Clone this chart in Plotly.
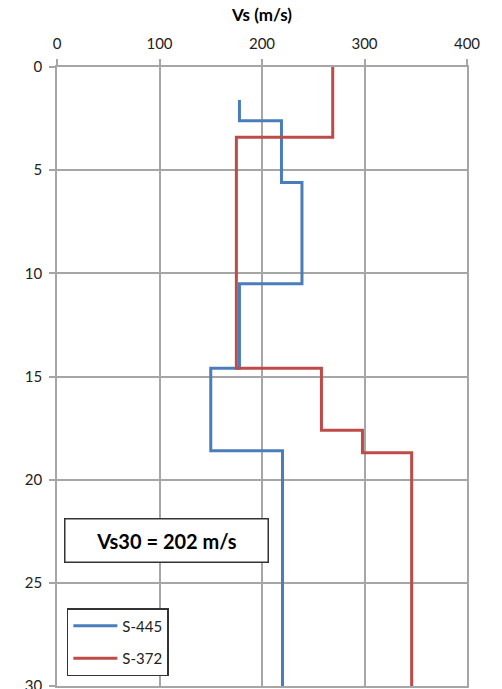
import plotly.graph_objects as go

# Layered shear-wave velocity profiles: each layer has a top depth, bottom depth and Vs
s445_top = [1.6, 2.6, 5.6, 10.5, 14.6, 18.6]
s445_bottom = [2.6, 5.6, 10.5, 14.6, 18.6, 30.0]
s445_vs = [178, 219, 239, 178, 150, 220]

s372_top = [0.0, 3.4, 14.6, 17.6, 18.7]
s372_bottom = [3.4, 14.6, 17.6, 18.7, 30.0]
s372_vs = [269, 175, 258, 298, 346]

x_ticks = [0, 100, 200, 300, 400]
y_ticks = [0, 5, 10, 15, 20, 25, 30]
vs30_label = "Vs30 = 202 m/s"


def step_profile(tops, bottoms, vs):
    xs, ys = [], []
    for t, b, v in zip(tops, bottoms, vs):
        xs += [v, v]
        ys += [t, b]
    return xs, ys


FONT = "Lato, 'Open Sans', sans-serif"
GRID = "#a6a6a6"
TEXT = "#222222"

fig = go.Figure()
for name, tops, bottoms, vs, color, grp in [
    ("S-445", s445_top, s445_bottom, s445_vs, "#4a7ebb", "a"),
    ("S-372", s372_top, s372_bottom, s372_vs, "#be4b48", "b"),
]:
    xs, ys = step_profile(tops, bottoms, vs)
    fig.add_trace(go.Scatter(x=xs, y=ys, mode="lines", name=name, legendgroup=grp,
                             line=dict(color=color, width=3)))

fig.update_layout(
    width=502, height=689,
    margin=dict(l=57, r=35, t=67, b=3),
    paper_bgcolor="white", plot_bgcolor="white",
    font=dict(family=FONT, size=15, color=TEXT),
    showlegend=True,
    legend=dict(x=0.024, y=0.126, xanchor="left", yanchor="top",
                bordercolor="#333333", borderwidth=1.5, bgcolor="white",
                font=dict(size=15, color=TEXT), tracegroupgap=10,
                itemwidth=44),
    xaxis=dict(side="top", range=[0, 400], tickvals=x_ticks,
               showgrid=True, gridcolor=GRID, gridwidth=1.5,
               showline=True, linecolor=GRID, linewidth=1.5, mirror=True,
               ticks="outside", ticklen=6, tickcolor=GRID, tickwidth=1.5,
               ticklabelstandoff=4, ticklabeloverflow="allow",
               zeroline=False, automargin=False,
               title=dict(text="<b>Vs (m/s)</b>", font=dict(size=17, color="#000000"), standoff=8)),
    yaxis=dict(range=[30, 0], tickvals=y_ticks,
               showgrid=True, gridcolor=GRID, gridwidth=1.5,
               showline=True, linecolor=GRID, linewidth=1.5, mirror=True,
               ticks="outside", ticklen=6, tickcolor=GRID, tickwidth=1.5,
               ticklabelstandoff=4, ticklabeloverflow="allow",
               zeroline=False, automargin=False),
)

fig.add_annotation(
    xref="paper", yref="paper", x=0.266, y=0.235,
    xanchor="center", yanchor="middle",
    text="<b>" + vs30_label + "</b>", showarrow=False,
    font=dict(family=FONT, size=20, color="#000000"),
    bordercolor="#333333", borderwidth=1.5, bgcolor="white",
    width=200, height=40, borderpad=1,
)

fig.write_html("out.html")
